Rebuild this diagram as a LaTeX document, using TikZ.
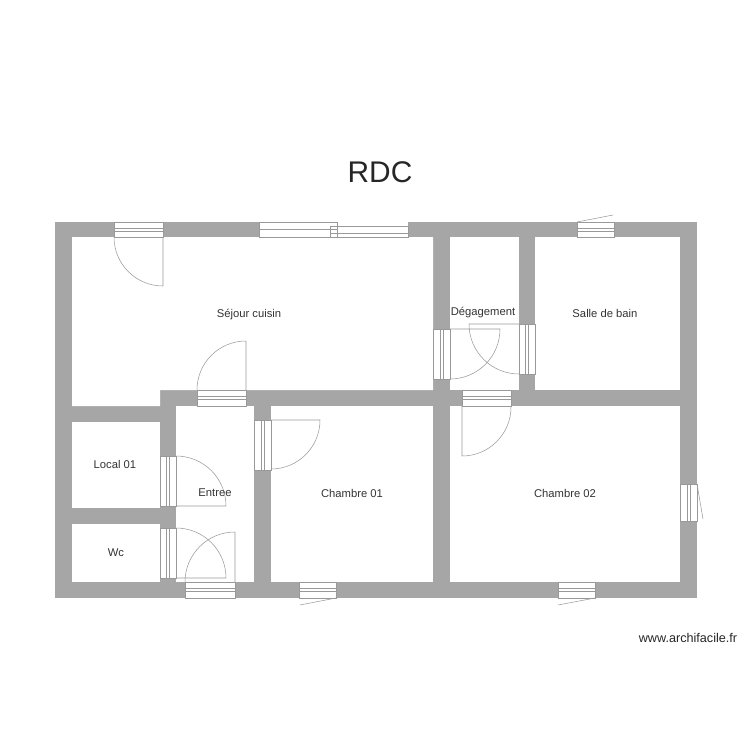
\documentclass[tikz,border=0pt]{standalone}
\usepackage{fontspec}
\setmainfont{Liberation Sans}
\definecolor{wallgray}{HTML}{A6A6A6}
\definecolor{linegray}{HTML}{999999}
\tikzset{
  room/.style={fill=white,draw=none},
  label/.style={font=\fontsize{6.4}{7.5}\selectfont,text=black!80},
  sash/.style={draw=linegray,line width=0.3pt},
}
% window in a horizontal wall: x1,y1,x2,y2
\newcommand{\hwin}[4]{\fill[white] (#1,#2) rectangle (#3,#4);
  \draw[sash] (#1,#2) rectangle (#3,#4);
  \draw[sash] (#1,{#2+(#4-#2)*0.4}) -- (#3,{#2+(#4-#2)*0.4});
  \draw[sash] (#1,{#2+(#4-#2)*0.6}) -- (#3,{#2+(#4-#2)*0.6});}
\newcommand{\vwin}[4]{\fill[white] (#1,#2) rectangle (#3,#4);
  \draw[sash] (#1,#2) rectangle (#3,#4);
  \draw[sash] ({#1+(#3-#1)*0.4},#2) -- ({#1+(#3-#1)*0.4},#4);
  \draw[sash] ({#1+(#3-#1)*0.6},#2) -- ({#1+(#3-#1)*0.6},#4);}
\begin{document}
\begin{tikzpicture}[x=0.02cm,y=-0.02cm]
\useasboundingbox (0,0) rectangle (750,750);
% walls and rooms
\fill[wallgray] (55,222) rectangle (697,598);
\fill[room] (72,237) -- (433,237) -- (433,390) -- (160,390) -- (160,406) -- (72,406) -- cycle;
\fill[room] (72,422) rectangle (160,508);
\fill[room] (72,524) rectangle (160,582);
\fill[room] (176,406) rectangle (254,582);
\fill[room] (271,406) rectangle (433,582);
\fill[room] (450,237) rectangle (519,390);
\fill[room] (535,237) rectangle (680,390);
\fill[room] (450,406) rectangle (680,582);
% windows
\hwin{114}{222}{163}{237}
\fill[white] (259,222) rectangle (408,237);
\draw[sash] (259,222) rectangle (337,229.5);
\draw[sash] (259,229.5) rectangle (337,237);
\draw[sash] (330,226) rectangle (408,233);
\draw[sash] (330,233) rectangle (408,237);
\hwin{197}{390}{246}{406}
\vwin{160}{456}{176}{506}
\vwin{160}{528}{176}{578}
\hwin{185}{582}{235}{598}
\vwin{254}{420}{271}{470}
\hwin{299}{582}{336}{598}
\vwin{433}{329}{450}{379}
\vwin{519}{324}{535}{374}
\hwin{462}{390}{511}{406}
\hwin{577}{222}{614}{237}
\vwin{680}{484}{697}{521}
\hwin{558}{582}{595}{598}
% sashes
\draw[sash] (300,605) -- (336,598);
\draw[sash] (577,222) -- (613,215);
\draw[sash] (697,484) -- (703,519);
\draw[sash] (558,605) -- (595,598);
% doors
\draw[sash] (163,286) -- (163,237) (114,237) arc[start angle=180,end angle=90,radius=49];
\draw[sash] (246,341) -- (246,390) (197,390) arc[start angle=180,end angle=270,radius=49];
\draw[sash] (226,506) -- (176,506) (176,456) arc[start angle=270,end angle=360,radius=50];
\draw[sash] (226,578) -- (176,578) (176,528) arc[start angle=270,end angle=360,radius=50];
\draw[sash] (235,532) -- (235,582) (185,582) arc[start angle=180,end angle=270,radius=50];
\draw[sash] (271,420) -- (320,420) arc[start angle=0,end angle=90,radius=49];
\draw[sash] (450,329) -- (500,329) arc[start angle=0,end angle=90,radius=50];
\draw[sash] (519,324) -- (469,324) arc[start angle=180,end angle=90,radius=50];
\draw[sash] (462,406) -- (462,456) arc[start angle=90,end angle=0,radius=49];
% labels
\node[font=\fontsize{17}{20}\selectfont,text=black!85] (title) at (380,172) {RDC};
\node[label] (sejour) at (249,315) {Séjour cuisin};
\node[label] (degag) at (483,313) {Dégagement};
\node[label] (sdb) at (605,313) {Salle de bain};
\node[label] (local) at (115,464) {Local 01};
\node[label] (entree) at (215,493) {Entree};
\node[label] (ch1) at (352,493) {Chambre 01};
\node[label] (ch2) at (565,493) {Chambre 02};
\node[label] (wc) at (116,553) {Wc};
\node[font=\fontsize{7.2}{8.5}\selectfont,text=black!85] (site) at (688,638) {www.archifacile.fr};
\end{tikzpicture}
\end{document}
